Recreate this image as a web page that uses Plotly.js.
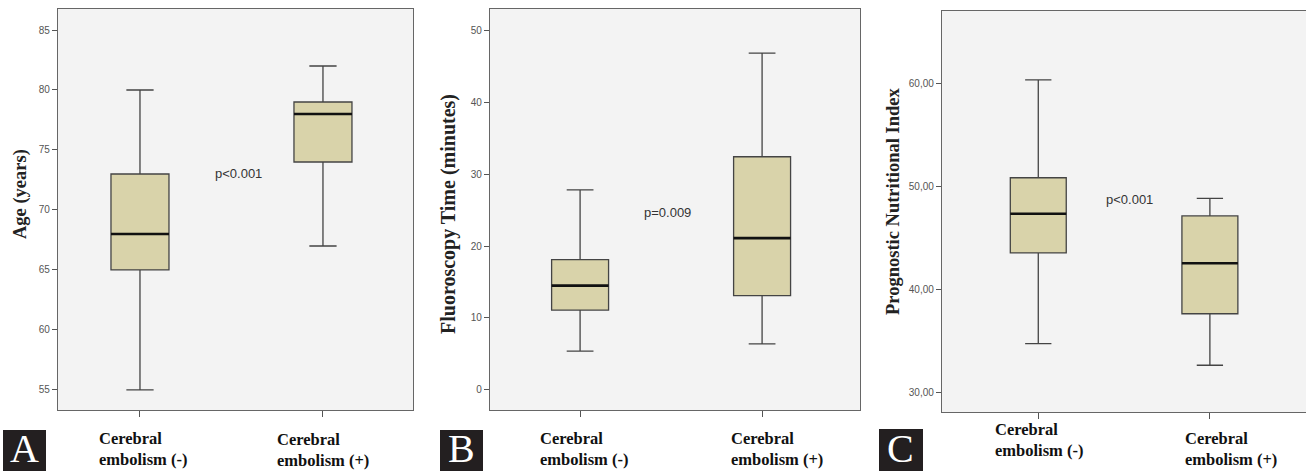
<!DOCTYPE html>
<html>
<head>
<meta charset="utf-8">
<script src="https://cdn.plot.ly/plotly-3.0.1.min.js"></script>
<style>html,body{margin:0;padding:0;background:#fff;}#chart{width:1306px;height:471px;}</style>
</head>
<body>
<div id="chart"></div>
<script>
// ---- data ----
const groupLabels = ["Cerebral<br>embolism (-)", "Cerebral<br>embolism (+)"];
const groupPos = [0, 1];

// Panel A: Age (years)
const ageLow = [55, 67];
const ageQ1 = [65, 74];
const ageMedian = [68, 78];
const ageQ3 = [73, 79];
const ageHigh = [80, 82];
const ageTicks = [55, 60, 65, 70, 75, 80, 85];

// Panel B: Fluoroscopy time (minutes)
const fluoLow = [5.4, 6.4];
const fluoQ1 = [11.1, 13.1];
const fluoMedian = [14.5, 21.1];
const fluoQ3 = [18.1, 32.4];
const fluoHigh = [27.8, 46.8];
const fluoTicks = [0, 10, 20, 30, 40, 50];

// Panel C: Prognostic Nutritional Index
const pniLow = [34.7, 32.6];
const pniQ1 = [43.5, 37.6];
const pniMedian = [47.3, 42.5];
const pniQ3 = [50.8, 47.1];
const pniHigh = [60.3, 48.8];
const pniTicks = [30, 40, 50, 60];
const pniTickText = ["30,00", "40,00", "50,00", "60,00"];

const pLabels = ["p<0.001", "p=0.009", "p<0.001"];
const panelLetters = ["A", "B", "C"];

// ---- styling ----
const W = 1306, H = 471;
const fillC = "#d9d3aa";
const edgeC = "#444444";
const sans = "Liberation Sans, Arial, sans-serif";
const serif = "Liberation Serif, Times New Roman, serif";

function px2x(p){ return p / W; }
function px2y(p){ return 1 - p / H; }

const panels = [
  {low: ageLow, q1: ageQ1, med: ageMedian, q3: ageQ3, high: ageHigh, bw: 0.317,
   xd: [58, 413], yd: [9, 410], xr: [-0.448, 1.492], yr: [53.33, 86.75],
   tv: ageTicks, tt: ageTicks.map(String), title: "Age (years)", titleSize: 18.5, titleX: 20, titleY: 194,
   pAt: [0.54, 73], labX: [97, 275], labY: [427, 428], letter: [3, 46, 430]},
  {low: fluoLow, q1: fluoQ1, med: fluoMedian, q3: fluoQ3, high: fluoHigh, bw: 0.313,
   xd: [490, 860], yd: [9, 410], xr: [-0.495, 1.538], yr: [-2.78, 52.92],
   tv: fluoTicks, tt: fluoTicks.map(String), title: "Fluoroscopy Time (minutes)", titleSize: 20, titleX: 448, titleY: 214,
   pAt: [0.478, 24.7], labX: [538, 729], labY: [427, 427], letter: [440, 483, 430]},
  {low: pniLow, q1: pniQ1, med: pniMedian, q3: pniQ3, high: pniHigh, bw: 0.326,
   xd: [942, 1306], yd: [11, 412], xr: [-0.561, 1.56], yr: [28.06, 66.99],
   tv: pniTicks, tt: pniTickText, title: "Prognostic Nutritional Index", titleSize: 18.5, titleX: 893, titleY: 201,
   pAt: [0.53, 48.7], labX: [993, 1183], labY: [418, 427], letter: [879, 923, 429]}
];

const traces = [];
const layout = {
  width: W, height: H,
  margin: {l: 0, r: 0, t: 0, b: 0},
  paper_bgcolor: "#ffffff",
  plot_bgcolor: "#f3f3f3",
  showlegend: false,
  annotations: [],
  shapes: []
};

panels.forEach((p, i) => {
  const n = i === 0 ? "" : String(i + 1);
  const xa = "x" + n, ya = "y" + n;
  traces.push({
    type: "box", x: groupPos, q1: p.q1, median: p.med, q3: p.q3,
    lowerfence: p.low, upperfence: p.high,
    xaxis: xa, yaxis: ya, boxpoints: false, width: p.bw, whiskerwidth: 0.47,
    fillcolor: fillC, line: {color: edgeC, width: 1.3}, hoverinfo: "skip"
  });
  layout["xaxis" + n] = {
    domain: [px2x(p.xd[0]), px2x(p.xd[1])], anchor: ya, range: p.xr,
    tickvals: groupPos, ticktext: ["", ""], ticks: "outside", ticklen: 6,
    tickcolor: "#555", showgrid: false, zeroline: false,
    showline: true, mirror: true, linecolor: "#666", linewidth: 1.2, fixedrange: true
  };
  layout["yaxis" + n] = {
    domain: [px2y(p.yd[1]), px2y(p.yd[0])], anchor: xa, range: p.yr,
    tickvals: p.tv, ticktext: p.tt, ticks: "outside", ticklen: 5, tickcolor: "#555",
    tickfont: {family: sans, size: 10, color: "#555"},
    showgrid: false, zeroline: false, showline: true, mirror: true,
    linecolor: "#666", linewidth: 1.2, fixedrange: true
  };
  // median lines (thicker, black), computed from median values
  p.med.forEach((m, k) => {
    layout.shapes.push({type: "line", xref: xa, yref: ya,
      x0: groupPos[k] - p.bw / 2, x1: groupPos[k] + p.bw / 2, y0: m, y1: m,
      line: {color: "#111", width: 2.6}});
  });
  // y axis title
  layout.annotations.push({xref: "paper", yref: "paper", x: px2x(p.titleX), y: px2y(p.titleY),
    text: "<b>" + p.title + "</b>", textangle: -90, showarrow: false,
    font: {family: serif, size: p.titleSize, color: "#222"}, xanchor: "center", yanchor: "middle"});
  // p value
  layout.annotations.push({xref: xa, yref: ya, x: p.pAt[0], y: p.pAt[1], text: pLabels[i],
    showarrow: false, font: {family: sans, size: 13, color: "#333"}, xanchor: "center", yanchor: "middle"});
  // category labels
  groupLabels.forEach((g, k) => {
    layout.annotations.push({xref: "paper", yref: "paper", x: px2x(p.labX[k]), y: px2y(p.labY[k]),
      text: "<b>" + g + "</b>", align: "left", showarrow: false, xanchor: "left", yanchor: "top",
      font: {family: serif, size: 16.5, color: "#111"}});
  });
  // panel letter box
  layout.shapes.push({type: "rect", xref: "paper", yref: "paper",
    x0: px2x(p.letter[0]), x1: px2x(p.letter[1]), y0: 0, y1: px2y(p.letter[2]),
    fillcolor: "#231f20", line: {width: 0}});
  layout.annotations.push({xref: "paper", yref: "paper",
    x: px2x((p.letter[0] + p.letter[1]) / 2), y: px2y(448),
    text: panelLetters[i], showarrow: false, xanchor: "center", yanchor: "middle",
    font: {family: serif, size: 40, color: "#ffffff"}});
});

Plotly.newPlot("chart", traces, layout, {displayModeBar: false, staticPlot: true});
</script>
</body>
</html>
